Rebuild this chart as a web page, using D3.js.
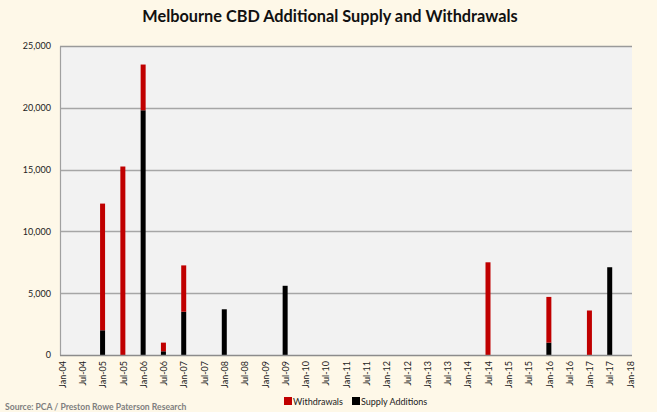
<!DOCTYPE html>
<html>
<head>
<meta charset="utf-8">
<script src="https://cdn.jsdelivr.net/npm/d3@7"></script>
<style>
  html, body { margin: 0; padding: 0; background: #FEF8E8; }
  svg { display: block; }
</style>
</head>
<body>
<svg id="chart" width="657" height="412"></svg>
<script>
// Half-yearly periods on the x axis
const periods = [
  "Jan-04","Jul-04","Jan-05","Jul-05","Jan-06","Jul-06","Jan-07","Jul-07",
  "Jan-08","Jul-08","Jan-09","Jul-09","Jan-10","Jul-10","Jan-11","Jul-11",
  "Jan-12","Jul-12","Jan-13","Jul-13","Jan-14","Jul-14","Jan-15","Jul-15",
  "Jan-16","Jul-16","Jan-17","Jul-17","Jan-18"
];
// Supply additions (sqm), one value per period
const supplyAdditions = [
  0, 0, 2000, 0, 19800, 300, 3500, 0,
  3700, 0, 0, 5600, 0, 0, 0, 0,
  0, 0, 0, 0, 0, 0, 0, 0,
  1000, 0, 0, 7100, 0
];
// Withdrawals (sqm), one value per period
const withdrawals = [
  0, 0, 10250, 15250, 3700, 700, 3750, 0,
  0, 0, 0, 0, 0, 0, 0, 0,
  0, 0, 0, 0, 0, 7500, 0, 0,
  3700, 0, 3600, 0, 0
];
const yTicks = [0, 5000, 10000, 15000, 20000, 25000];
const seriesNames = ["Supply Additions", "Withdrawals"];
const seriesColors = { "Supply Additions": "#000000", "Withdrawals": "#C00000" };

const font = "Lato, 'Open Sans', sans-serif";
const svg = d3.select("#chart");

const plot = { left: 60, right: 632, top: 46, bottom: 355 };

// plot background
svg.append("rect")
  .attr("x", plot.left).attr("y", plot.top)
  .attr("width", plot.right - plot.left).attr("height", plot.bottom - plot.top)
  .attr("fill", "#F2F2F2");

const x = d3.scalePoint().domain(periods).range([62, 630]);
const y = d3.scaleLinear().domain([0, 25000]).range([plot.bottom, plot.top]);

// horizontal gridlines
svg.append("g")
  .selectAll("line")
  .data(yTicks.filter(d => d > 0))
  .join("line")
  .attr("x1", plot.left).attr("x2", plot.right)
  .attr("y1", d => Math.round(y(d)) + 0.5).attr("y2", d => Math.round(y(d)) + 0.5)
  .attr("stroke", d => d === 25000 ? "#9a9a9a" : "#a6a6a6")
  .attr("stroke-width", 1.3);

// y axis
const yAxis = svg.append("g")
  .attr("transform", `translate(${plot.left},0)`)
  .call(d3.axisLeft(y).tickValues(yTicks).tickSize(0).tickPadding(9)
    .tickFormat(d3.format(",")));
yAxis.select(".domain").attr("stroke", "#a0a0a0").attr("stroke-width", 1.2);
yAxis.selectAll("text")
  .attr("font-family", font).attr("font-size", 9).attr("fill", "#222");

// stacked bars: supply at the base, withdrawals on top
const rows = periods.map((p, i) => ({
  period: p,
  "Supply Additions": supplyAdditions[i],
  "Withdrawals": withdrawals[i]
}));
const stacked = d3.stack().keys(seriesNames)(rows);
const barW = 5;

svg.append("g")
  .selectAll("g")
  .data(stacked)
  .join("g")
  .attr("fill", d => seriesColors[d.key])
  .selectAll("rect")
  .data(d => d.filter(v => v[1] - v[0] > 0))
  .join("rect")
  .attr("x", d => x(d.data.period) - barW / 2)
  .attr("y", d => y(d[1]))
  .attr("width", barW)
  .attr("height", d => y(d[0]) - y(d[1]));

// x axis
const xAxis = svg.append("g")
  .attr("transform", `translate(0,${plot.bottom})`)
  .call(d3.axisBottom(x).tickSize(0).tickPadding(0));
xAxis.select(".domain")
  .attr("d", `M${plot.left},0.5H${plot.right}`)
  .attr("stroke", "#8c8c8c").attr("stroke-width", 1.3);
xAxis.selectAll("text")
  .attr("font-family", font).attr("font-size", 9).attr("fill", "#222")
  .attr("text-anchor", "end")
  .attr("dy", "0.35em")
  .attr("transform", "translate(0,6) rotate(-90)")
  .attr("x", 0).attr("y", 0);

// title
svg.append("text")
  .attr("x", 330).attr("y", 22)
  .attr("text-anchor", "middle")
  .attr("font-family", font).attr("font-weight", "bold").attr("font-size", 16.3)
  .attr("fill", "#111")
  .text("Melbourne CBD Additional Supply and Withdrawals");

// legend
const legendItems = [
  { name: "Withdrawals", x: 284 },
  { name: "Supply Additions", x: 352 }
];
const legend = svg.append("g");
legendItems.forEach(item => {
  legend.append("rect")
    .attr("x", item.x).attr("y", 397).attr("width", 8).attr("height", 8)
    .attr("fill", seriesColors[item.name]);
  legend.append("text")
    .attr("x", item.x + 9).attr("y", 404.5)
    .attr("font-family", font).attr("font-size", 9).attr("fill", "#222")
    .text(item.name);
});

// source note
svg.append("text")
  .attr("x", 5).attr("y", 410)
  .attr("font-family", font).attr("font-weight", "bold").attr("font-size", 8.6)
  .attr("fill", "#7f7f7f")
  .text("Source: PCA / Preston Rowe Paterson Research");
</script>
</body>
</html>
